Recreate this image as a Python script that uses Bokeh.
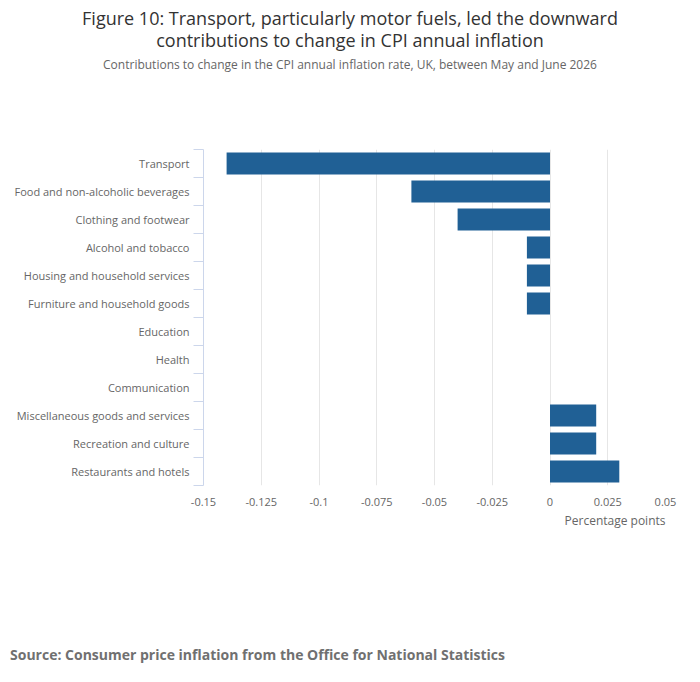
from bokeh.plotting import figure
from bokeh.models import (ColumnDataSource, FixedTicker, Range1d, Title, Div)
from bokeh.layouts import column
from bokeh.embed import file_html
from bokeh.resources import INLINE

categories = [
    "Transport",
    "Food and non-alcoholic beverages",
    "Clothing and footwear",
    "Alcohol and tobacco",
    "Housing and household services",
    "Furniture and household goods",
    "Education",
    "Health",
    "Communication",
    "Miscellaneous goods and services",
    "Recreation and culture",
    "Restaurants and hotels",
]
contributions = [-0.14, -0.06, -0.04, -0.01, -0.01, -0.01, 0.0, 0.0, 0.0, 0.02, 0.02, 0.03]
x_ticks = [-0.15, -0.125, -0.1, -0.075, -0.05, -0.025, 0.0, 0.025, 0.05]
x_tick_labels = ["-0.15", "-0.125", "-0.1", "-0.075", "-0.05", "-0.025", "0", "0.025", "0.05"]

title_text = ("Figure 10: Transport, particularly motor fuels, led the downward<br>"
              "contributions to change in CPI annual inflation")
subtitle_text = "Contributions to change in the CPI annual inflation rate, UK, between May and June 2026"
source_text = "Source: Consumer price inflation from the Office for National Statistics"
x_label = "Percentage points"

FONT = "'Open Sans', sans-serif"
BAR = "#206095"
AXIS_C = "#ccd6eb"
GRID_C = "#e6e6e6"
LABEL_C = "#666666"

W = 684

head = Div(
    text=(f"<div style=\"width:{W + 16}px;text-align:center;font-family:{FONT};padding-top:7px;\">"
          f"<div style=\"font-size:18px;line-height:22px;color:#333333;\">{title_text}</div>"
          f"<div style=\"font-size:12px;line-height:16px;color:#666666;margin-top:6px;\">{subtitle_text}</div>"
          f"</div>"),
    width=W, height=88, margin=(0, 0, 0, 0),
)

idx = list(range(len(categories)))
src = ColumnDataSource(dict(y=idx, x=contributions, cat=categories))

p = figure(width=W, height=452, output_backend="svg", toolbar_location=None,
           x_range=Range1d(x_ticks[0], x_ticks[-1]),
           y_range=Range1d(len(categories) - 0.5, -0.5),
           min_border_left=203, min_border_right=19,
           min_border_top=61, min_border_bottom=55,
           margin=(0, 0, 0, 0))
p.outline_line_color = None
p.background_fill_color = "white"

p.hbar(y="y", right="x", left=0, height=0.78, source=src,
       fill_color=BAR, line_color=None)

# x axis
xa = p.xaxis[0]
xa.ticker = FixedTicker(ticks=x_ticks)
xa.major_label_overrides = {t: l for t, l in zip(x_ticks, x_tick_labels)}
xa.axis_line_color = None
xa.major_tick_line_color = None
xa.minor_tick_line_color = None
xa.major_label_text_font = "Open Sans"
xa.major_label_text_font_size = "11px"
xa.major_label_text_color = LABEL_C
xa.major_label_standoff = 6

# y axis
ya = p.yaxis[0]
ya.ticker = FixedTicker(ticks=idx, minor_ticks=[i - 0.5 for i in range(len(categories) + 1)])
ya.major_label_overrides = {i: c for i, c in zip(idx, categories)}
ya.axis_line_color = AXIS_C
ya.major_tick_line_color = None
ya.minor_tick_line_color = AXIS_C
ya.minor_tick_out = 10
ya.minor_tick_in = 0
ya.major_tick_out = 0
ya.major_tick_in = 0
ya.major_label_standoff = 4
ya.major_label_text_font = "Open Sans"
ya.major_label_text_font_size = "11px"
ya.major_label_text_color = LABEL_C

p.xgrid.grid_line_color = GRID_C
p.xgrid.ticker = FixedTicker(ticks=x_ticks)
p.ygrid.grid_line_color = None

p.add_layout(Title(text=x_label, align="right", text_font="Open Sans",
                   text_font_size="12px", text_font_style="normal",
                   text_color=LABEL_C, standoff=2), "below")

foot = Div(
    text=(f"<div style=\"font-family:{FONT};font-size:14px;font-weight:bold;"
          f"color:#707070;margin-top:105px;margin-left:10px;\">{source_text}</div>"),
    width=W, height=134, margin=(0, 0, 0, 0),
)

layout = column(head, p, foot, spacing=0)
open("out.html", "w").write(file_html(layout, INLINE))
